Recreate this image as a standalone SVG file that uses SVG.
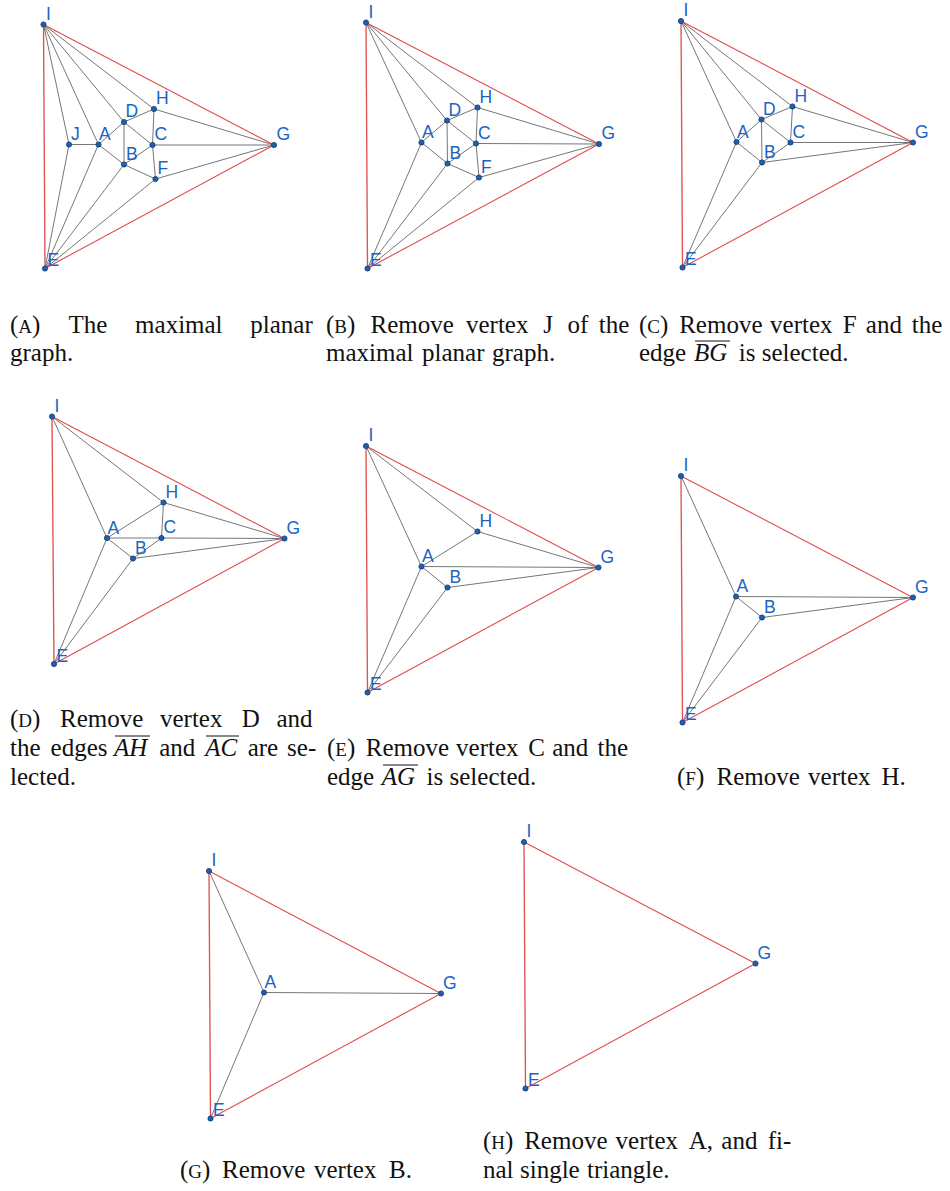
<svg xmlns="http://www.w3.org/2000/svg" width="950" height="1191" viewBox="0 0 950 1191">
<style>
.e{stroke:#767676;stroke-width:1;fill:none}
.r{stroke:#e34c4c;stroke-width:1.1;fill:none}
.rv{stroke:#e05252;stroke-width:1.35;fill:none}
.dot{fill:#1f5fb0;stroke:#0d3a75;stroke-width:0.8}
.lb{font-family:"Liberation Sans",Arial,sans-serif;font-size:17.5px;fill:#1c64c4}
.cap{font-family:"Liberation Serif","Times New Roman",serif;font-size:25px;fill:#111}
.sc{font-size:19px}
.it{font-style:italic}
.ov{stroke:#111;stroke-width:1}
</style>
<rect width="950" height="1191" fill="#fff"/>

<!-- Panel A -->
<g id="panelA">
<g id="a-edges">
<line class="e" x1="43.5" y1="24.5" x2="69" y2="144.5"/>
<line class="e" x1="43.5" y1="24.5" x2="98.5" y2="144.5"/>
<line class="e" x1="43.5" y1="24.5" x2="124" y2="122"/>
<line class="e" x1="43.5" y1="24.5" x2="154" y2="109"/>
<line class="e" x1="45" y1="268.5" x2="69" y2="144.5"/>
<line class="e" x1="45" y1="268.5" x2="98.5" y2="144.5"/>
<line class="e" x1="45" y1="268.5" x2="124" y2="164.5"/>
<line class="e" x1="45" y1="268.5" x2="155.5" y2="179"/>
<line class="e" x1="69" y1="144.5" x2="98.5" y2="144.5"/>
<line class="e" x1="98.5" y1="144.5" x2="124" y2="122"/>
<line class="e" x1="98.5" y1="144.5" x2="124" y2="164.5"/>
<line class="e" x1="124" y1="122" x2="124" y2="164.5"/>
<line class="e" x1="124" y1="122" x2="154" y2="109"/>
<line class="e" x1="124" y1="122" x2="152.5" y2="145"/>
<line class="e" x1="154" y1="109" x2="152.5" y2="145"/>
<line class="e" x1="152.5" y1="145" x2="124" y2="164.5"/>
<line class="e" x1="152.5" y1="145" x2="155.5" y2="179"/>
<line class="e" x1="124" y1="164.5" x2="155.5" y2="179"/>
<line class="e" x1="152.5" y1="145" x2="274" y2="145"/>
<line class="e" x1="154" y1="109" x2="274" y2="145"/>
<line class="e" x1="155.5" y1="179" x2="274" y2="145"/>
<line class="r" x1="43.5" y1="24.5" x2="274" y2="145"/>
<line class="r" x1="45" y1="268.5" x2="274" y2="145"/>
<line class="rv" x1="43.5" y1="24.5" x2="45" y2="268.5"/>
</g>
<g id="a-I"><circle class="dot" cx="43.5" cy="24.5" r="2.6"/><text class="lb" x="46" y="19.5">I</text></g>
<g id="a-E"><circle class="dot" cx="45" cy="268.5" r="2.6"/><text class="lb" x="47.5" y="266">E</text></g>
<g id="a-G"><circle class="dot" cx="274" cy="145" r="2.6"/><text class="lb" x="276.5" y="140">G</text></g>
<g id="a-H"><circle class="dot" cx="154" cy="109" r="2.6"/><text class="lb" x="156" y="104">H</text></g>
<g id="a-D"><circle class="dot" cx="124" cy="122" r="2.6"/><text class="lb" x="125.5" y="117">D</text></g>
<g id="a-J"><circle class="dot" cx="69" cy="144.5" r="2.6"/><text class="lb" x="71" y="140">J</text></g>
<g id="a-A"><circle class="dot" cx="98.5" cy="144.5" r="2.6"/><text class="lb" x="99" y="140">A</text></g>
<g id="a-C"><circle class="dot" cx="152.5" cy="145" r="2.6"/><text class="lb" x="154.5" y="140">C</text></g>
<g id="a-B"><circle class="dot" cx="124" cy="164.5" r="2.6"/><text class="lb" x="126" y="159.5">B</text></g>
<g id="a-F"><circle class="dot" cx="155.5" cy="179" r="2.6"/><text class="lb" x="157.5" y="174">F</text></g>
</g>

<!-- Panel B -->
<g id="panelB">
<g id="b-edges">
<line class="e" x1="366" y1="22.5" x2="421.5" y2="142.5"/>
<line class="e" x1="366" y1="22.5" x2="447" y2="120.5"/>
<line class="e" x1="366" y1="22.5" x2="477.5" y2="107.5"/>
<line class="e" x1="367.5" y1="268.5" x2="421.5" y2="142.5"/>
<line class="e" x1="367.5" y1="268.5" x2="447.5" y2="163.5"/>
<line class="e" x1="367.5" y1="268.5" x2="479" y2="177.5"/>
<line class="e" x1="421.5" y1="142.5" x2="447" y2="120.5"/>
<line class="e" x1="421.5" y1="142.5" x2="447.5" y2="163.5"/>
<line class="e" x1="447" y1="120.5" x2="447.5" y2="163.5"/>
<line class="e" x1="447" y1="120.5" x2="477.5" y2="107.5"/>
<line class="e" x1="447" y1="120.5" x2="476" y2="143.5"/>
<line class="e" x1="477.5" y1="107.5" x2="476" y2="143.5"/>
<line class="e" x1="476" y1="143.5" x2="447.5" y2="163.5"/>
<line class="e" x1="476" y1="143.5" x2="479" y2="177.5"/>
<line class="e" x1="447.5" y1="163.5" x2="479" y2="177.5"/>
<line class="e" x1="476" y1="143.5" x2="599" y2="144"/>
<line class="e" x1="477.5" y1="107.5" x2="599" y2="144"/>
<line class="e" x1="479" y1="177.5" x2="599" y2="144"/>
<line class="r" x1="366" y1="22.5" x2="599" y2="144"/>
<line class="r" x1="367.5" y1="268.5" x2="599" y2="144"/>
<line class="rv" x1="366" y1="22.5" x2="367.5" y2="268.5"/>
</g>
<g id="b-I"><circle class="dot" cx="366" cy="22.5" r="2.6"/><text class="lb" x="368.5" y="17.5">I</text></g>
<g id="b-E"><circle class="dot" cx="367.5" cy="268.5" r="2.6"/><text class="lb" x="370" y="266">E</text></g>
<g id="b-G"><circle class="dot" cx="599" cy="144" r="2.6"/><text class="lb" x="601.5" y="139">G</text></g>
<g id="b-H"><circle class="dot" cx="477.5" cy="107.5" r="2.6"/><text class="lb" x="479.5" y="102.5">H</text></g>
<g id="b-D"><circle class="dot" cx="447" cy="120.5" r="2.6"/><text class="lb" x="448.5" y="115.5">D</text></g>
<g id="b-A"><circle class="dot" cx="421.5" cy="142.5" r="2.6"/><text class="lb" x="422" y="138">A</text></g>
<g id="b-C"><circle class="dot" cx="476" cy="143.5" r="2.6"/><text class="lb" x="478" y="138.5">C</text></g>
<g id="b-B"><circle class="dot" cx="447.5" cy="163.5" r="2.6"/><text class="lb" x="449.5" y="158.5">B</text></g>
<g id="b-F"><circle class="dot" cx="479" cy="177.5" r="2.6"/><text class="lb" x="481" y="172.5">F</text></g>
</g>

<!-- Panel C -->
<g id="panelC">
<g id="c-edges">
<line class="e" x1="681" y1="21" x2="736.5" y2="142"/>
<line class="e" x1="681" y1="21" x2="761.5" y2="119.5"/>
<line class="e" x1="681" y1="21" x2="792.5" y2="106.5"/>
<line class="e" x1="682.5" y1="267.5" x2="736.5" y2="142"/>
<line class="e" x1="682.5" y1="267.5" x2="762" y2="162.5"/>
<line class="e" x1="736.5" y1="142" x2="761.5" y2="119.5"/>
<line class="e" x1="736.5" y1="142" x2="762" y2="162.5"/>
<line class="e" x1="761.5" y1="119.5" x2="762" y2="162.5"/>
<line class="e" x1="761.5" y1="119.5" x2="792.5" y2="106.5"/>
<line class="e" x1="761.5" y1="119.5" x2="790.5" y2="142.5"/>
<line class="e" x1="792.5" y1="106.5" x2="790.5" y2="142.5"/>
<line class="e" x1="790.5" y1="142.5" x2="762" y2="162.5"/>
<line class="e" x1="790.5" y1="142.5" x2="913" y2="142.5"/>
<line class="e" x1="792.5" y1="106.5" x2="913" y2="142.5"/>
<line class="e" x1="762" y1="162.5" x2="913" y2="142.5"/>
<line class="r" x1="681" y1="21" x2="913" y2="142.5"/>
<line class="r" x1="682.5" y1="267.5" x2="913" y2="142.5"/>
<line class="rv" x1="681" y1="21" x2="682.5" y2="267.5"/>
</g>
<g id="c-I"><circle class="dot" cx="681" cy="21" r="2.6"/><text class="lb" x="683.5" y="16">I</text></g>
<g id="c-E"><circle class="dot" cx="682.5" cy="267.5" r="2.6"/><text class="lb" x="685" y="265">E</text></g>
<g id="c-G"><circle class="dot" cx="913" cy="142.5" r="2.6"/><text class="lb" x="915" y="137.5">G</text></g>
<g id="c-H"><circle class="dot" cx="792.5" cy="106.5" r="2.6"/><text class="lb" x="794.5" y="101.5">H</text></g>
<g id="c-D"><circle class="dot" cx="761.5" cy="119.5" r="2.6"/><text class="lb" x="763" y="114.5">D</text></g>
<g id="c-A"><circle class="dot" cx="736.5" cy="142" r="2.6"/><text class="lb" x="737" y="137.5">A</text></g>
<g id="c-C"><circle class="dot" cx="790.5" cy="142.5" r="2.6"/><text class="lb" x="792.5" y="137.5">C</text></g>
<g id="c-B"><circle class="dot" cx="762" cy="162.5" r="2.6"/><text class="lb" x="764" y="157.5">B</text></g>
</g>

<!-- Panel D -->
<g id="panelD">
<g id="d-edges">
<line class="e" x1="52" y1="416.5" x2="107" y2="538"/>
<line class="e" x1="52" y1="416.5" x2="163.5" y2="502.5"/>
<line class="e" x1="54" y1="664" x2="107" y2="538"/>
<line class="e" x1="54" y1="664" x2="133" y2="558.5"/>
<line class="e" x1="107" y1="538" x2="163.5" y2="502.5"/>
<line class="e" x1="107" y1="538" x2="161.5" y2="538"/>
<line class="e" x1="107" y1="538" x2="133" y2="558.5"/>
<line class="e" x1="163.5" y1="502.5" x2="161.5" y2="538"/>
<line class="e" x1="163.5" y1="502.5" x2="284.5" y2="538.5"/>
<line class="e" x1="161.5" y1="538" x2="284.5" y2="538.5"/>
<line class="e" x1="161.5" y1="538" x2="133" y2="558.5"/>
<line class="e" x1="133" y1="558.5" x2="284.5" y2="538.5"/>
<line class="r" x1="52" y1="416.5" x2="284.5" y2="538.5"/>
<line class="r" x1="54" y1="664" x2="284.5" y2="538.5"/>
<line class="rv" x1="52" y1="416.5" x2="54" y2="664"/>
</g>
<g id="d-I"><circle class="dot" cx="52" cy="416.5" r="2.6"/><text class="lb" x="54.5" y="411.5">I</text></g>
<g id="d-E"><circle class="dot" cx="54" cy="664" r="2.6"/><text class="lb" x="56.5" y="661.5">E</text></g>
<g id="d-G"><circle class="dot" cx="284.5" cy="538.5" r="2.6"/><text class="lb" x="286.5" y="533.5">G</text></g>
<g id="d-H"><circle class="dot" cx="163.5" cy="502.5" r="2.6"/><text class="lb" x="165.5" y="497.5">H</text></g>
<g id="d-A"><circle class="dot" cx="107" cy="538" r="2.6"/><text class="lb" x="107.5" y="533.5">A</text></g>
<g id="d-C"><circle class="dot" cx="161.5" cy="538" r="2.6"/><text class="lb" x="163.5" y="533">C</text></g>
<g id="d-B"><circle class="dot" cx="133" cy="558.5" r="2.6"/><text class="lb" x="135" y="553.5">B</text></g>
</g>

<!-- Panel E -->
<g id="panelE">
<g id="e-edges">
<line class="e" x1="366" y1="446" x2="421.5" y2="566.5"/>
<line class="e" x1="366" y1="446" x2="477.5" y2="531.5"/>
<line class="e" x1="367.5" y1="692.5" x2="421.5" y2="566.5"/>
<line class="e" x1="367.5" y1="692.5" x2="447.5" y2="587.5"/>
<line class="e" x1="421.5" y1="566.5" x2="477.5" y2="531.5"/>
<line class="e" x1="421.5" y1="566.5" x2="598.5" y2="567.5"/>
<line class="e" x1="421.5" y1="566.5" x2="447.5" y2="587.5"/>
<line class="e" x1="477.5" y1="531.5" x2="598.5" y2="567.5"/>
<line class="e" x1="447.5" y1="587.5" x2="598.5" y2="567.5"/>
<line class="r" x1="366" y1="446" x2="598.5" y2="567.5"/>
<line class="r" x1="367.5" y1="692.5" x2="598.5" y2="567.5"/>
<line class="rv" x1="366" y1="446" x2="367.5" y2="692.5"/>
</g>
<g id="e-I"><circle class="dot" cx="366" cy="446" r="2.6"/><text class="lb" x="368.5" y="441">I</text></g>
<g id="e-E"><circle class="dot" cx="367.5" cy="692.5" r="2.6"/><text class="lb" x="370" y="690">E</text></g>
<g id="e-G"><circle class="dot" cx="598.5" cy="567.5" r="2.6"/><text class="lb" x="600.5" y="562.5">G</text></g>
<g id="e-H"><circle class="dot" cx="477.5" cy="531.5" r="2.6"/><text class="lb" x="479.5" y="526.5">H</text></g>
<g id="e-A"><circle class="dot" cx="421.5" cy="566.5" r="2.6"/><text class="lb" x="422" y="562">A</text></g>
<g id="e-B"><circle class="dot" cx="447.5" cy="587.5" r="2.6"/><text class="lb" x="449.5" y="582.5">B</text></g>
</g>

<!-- Panel F -->
<g id="panelF">
<g id="f-edges">
<line class="e" x1="681" y1="476" x2="736" y2="596.5"/>
<line class="e" x1="682.5" y1="722.5" x2="736" y2="596.5"/>
<line class="e" x1="682.5" y1="722.5" x2="762" y2="617.5"/>
<line class="e" x1="736" y1="596.5" x2="913" y2="597.5"/>
<line class="e" x1="736" y1="596.5" x2="762" y2="617.5"/>
<line class="e" x1="762" y1="617.5" x2="913" y2="597.5"/>
<line class="r" x1="681" y1="476" x2="913" y2="597.5"/>
<line class="r" x1="682.5" y1="722.5" x2="913" y2="597.5"/>
<line class="rv" x1="681" y1="476" x2="682.5" y2="722.5"/>
</g>
<g id="f-I"><circle class="dot" cx="681" cy="476" r="2.6"/><text class="lb" x="683.5" y="471">I</text></g>
<g id="f-E"><circle class="dot" cx="682.5" cy="722.5" r="2.6"/><text class="lb" x="685" y="720">E</text></g>
<g id="f-G"><circle class="dot" cx="913" cy="597.5" r="2.6"/><text class="lb" x="915" y="592.5">G</text></g>
<g id="f-A"><circle class="dot" cx="736" cy="596.5" r="2.6"/><text class="lb" x="736.5" y="592">A</text></g>
<g id="f-B"><circle class="dot" cx="762" cy="617.5" r="2.6"/><text class="lb" x="764" y="612.5">B</text></g>
</g>

<!-- Panel G -->
<g id="panelG">
<g id="g-edges">
<line class="e" x1="209" y1="871" x2="264" y2="992.5"/>
<line class="e" x1="210.5" y1="1118.5" x2="264" y2="992.5"/>
<line class="e" x1="264" y1="992.5" x2="441" y2="993.5"/>
<line class="r" x1="209" y1="871" x2="441" y2="993.5"/>
<line class="r" x1="210.5" y1="1118.5" x2="441" y2="993.5"/>
<line class="rv" x1="209" y1="871" x2="210.5" y2="1118.5"/>
</g>
<g id="g-I"><circle class="dot" cx="209" cy="871" r="2.6"/><text class="lb" x="211.5" y="866">I</text></g>
<g id="g-E"><circle class="dot" cx="210.5" cy="1118.5" r="2.6"/><text class="lb" x="213" y="1116">E</text></g>
<g id="g-G"><circle class="dot" cx="441" cy="993.5" r="2.6"/><text class="lb" x="443" y="988.5">G</text></g>
<g id="g-A"><circle class="dot" cx="264" cy="992.5" r="2.6"/><text class="lb" x="264.5" y="988">A</text></g>
</g>

<!-- Panel H -->
<g id="panelH">
<g id="h-edges">
<line class="r" x1="524" y1="842" x2="755.5" y2="963.5"/>
<line class="r" x1="525.5" y1="1088.5" x2="755.5" y2="963.5"/>
<line class="rv" x1="524" y1="842" x2="525.5" y2="1088.5"/>
</g>
<g id="h-I"><circle class="dot" cx="524" cy="842" r="2.6"/><text class="lb" x="526.5" y="837">I</text></g>
<g id="h-E"><circle class="dot" cx="525.5" cy="1088.5" r="2.6"/><text class="lb" x="528" y="1086">E</text></g>
<g id="h-G"><circle class="dot" cx="755.5" cy="963.5" r="2.6"/><text class="lb" x="757.5" y="958.5">G</text></g>
</g>

<!-- Captions -->
<g id="captions">
<text class="cap" y="333"><tspan x="10">(<tspan class="sc">A</tspan>)</tspan><tspan x="68.6">The</tspan><tspan x="135.1">maximal</tspan><tspan x="250.3">planar</tspan></text>
<text class="cap" x="10" y="361">graph.</text>

<text class="cap" y="333"><tspan x="326">(<tspan class="sc">B</tspan>)</tspan><tspan x="370.5">Remove</tspan><tspan x="466">vertex</tspan><tspan x="543.3">J</tspan><tspan x="567.5">of</tspan><tspan x="598.7">the</tspan></text>
<text class="cap" y="361"><tspan x="326">maximal</tspan><tspan x="422">planar</tspan><tspan x="492">graph.</tspan></text>

<text class="cap" y="333"><tspan x="639">(<tspan class="sc">C</tspan>)</tspan><tspan x="679.2">Remove</tspan><tspan x="770.1">vertex</tspan><tspan x="842.8">F</tspan><tspan x="865.8">and</tspan><tspan x="911.8">the</tspan></text>
<text class="cap" y="361"><tspan x="639">edge</tspan><tspan x="694" class="it">BG</tspan><tspan x="738.8">is selected.</tspan></text>
<line class="ov" x1="695" y1="341" x2="730" y2="341"/>

<text class="cap" y="727"><tspan x="10">(<tspan class="sc">D</tspan>)</tspan><tspan x="60">Remove</tspan><tspan x="160">vertex</tspan><tspan x="241.8">D</tspan><tspan x="276.4">and</tspan></text>
<text class="cap" y="756"><tspan x="10">the</tspan><tspan x="50.6">edges</tspan><tspan x="114" class="it">AH</tspan><tspan x="159.2">and</tspan><tspan x="205.2" class="it">AC</tspan><tspan x="247.7">are</tspan><tspan x="287.1">se-</tspan></text>
<line class="ov" x1="115" y1="736" x2="150" y2="736"/>
<line class="ov" x1="206" y1="736" x2="239" y2="736"/>
<text class="cap" x="10" y="785">lected.</text>

<text class="cap" y="756"><tspan x="327">(<tspan class="sc">E</tspan>)</tspan><tspan x="365.8">Remove</tspan><tspan x="456.1">vertex</tspan><tspan x="528.2">C</tspan><tspan x="552.2">and</tspan><tspan x="597.6">the</tspan></text>
<text class="cap" y="785"><tspan x="327">edge</tspan><tspan x="381.7" class="it">AG</tspan><tspan x="426.6">is selected.</tspan></text>
<line class="ov" x1="383" y1="765" x2="418" y2="765"/>

<text class="cap" y="785"><tspan x="677">(<tspan class="sc">F</tspan>)</tspan><tspan x="716.5">Remove</tspan><tspan x="808.1">vertex</tspan><tspan x="881.5">H.</tspan></text>

<text class="cap" y="1178"><tspan x="180">(<tspan class="sc">G</tspan>)</tspan><tspan x="222">Remove</tspan><tspan x="314">vertex</tspan><tspan x="389">B.</tspan></text>

<text class="cap" y="1149"><tspan x="483">(<tspan class="sc">H</tspan>)</tspan><tspan x="524.2">Remove</tspan><tspan x="615.6">vertex</tspan><tspan x="688.8">A,</tspan><tspan x="721.3">and</tspan><tspan x="767.8">fi-</tspan></text>
<text class="cap" y="1178"><tspan x="483">nal</tspan><tspan x="520">single</tspan><tspan x="587">triangle.</tspan></text>
</g>
</svg>
